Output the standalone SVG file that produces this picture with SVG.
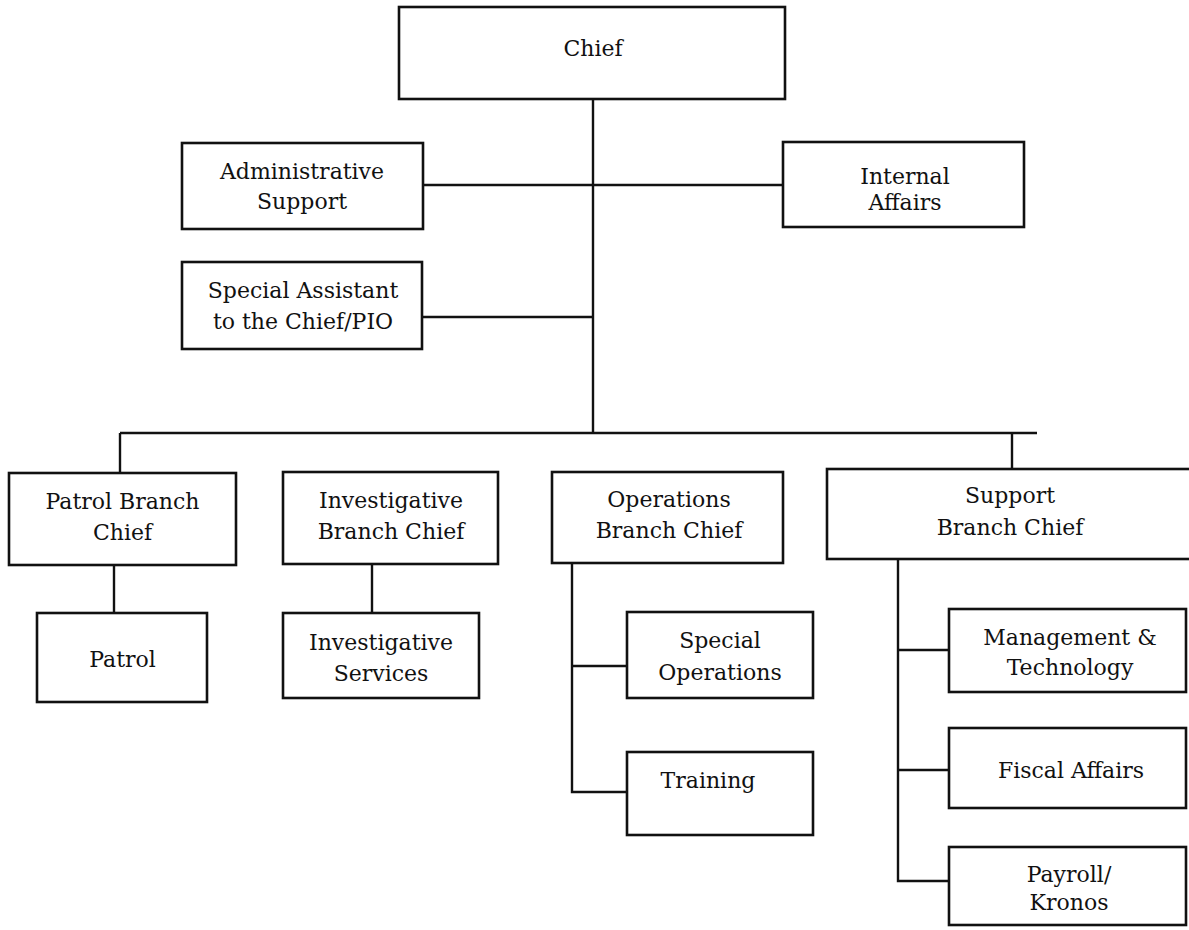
<svg xmlns="http://www.w3.org/2000/svg" width="1189" height="930" viewBox="0 0 1189 930">
<style>
.box{fill:#fff;stroke:#111;stroke-width:2.6}
.ln{stroke:#111;stroke-width:2.4;fill:none}
text{font-family:"DejaVu Serif","Liberation Serif",serif;font-size:22px;fill:#111;text-anchor:middle}
</style>
<rect width="1189" height="930" fill="#fff"/>
<g id="connectors">
<path class="ln" d="M593 99V433"/>
<path class="ln" d="M423 185H783"/>
<path class="ln" d="M422 317H593"/>
<path class="ln" d="M120 433H1037"/>
<path class="ln" d="M120 433V473"/>
<path class="ln" d="M1012 433V469"/>
<path class="ln" d="M114 565V613"/>
<path class="ln" d="M372 564V613"/>
<path class="ln" d="M572 563V792H627"/>
<path class="ln" d="M572 666H627"/>
<path class="ln" d="M898 559V881H949"/>
<path class="ln" d="M898 650H949"/>
<path class="ln" d="M898 770H949"/>
</g>
<g id="chief"><rect class="box" x="399" y="7" width="386" height="92"/><text x="593" y="56">Chief</text></g>
<g id="admin"><rect class="box" x="182" y="143" width="241" height="86"/><text x="302" y="179">Administrative</text><text x="302" y="209">Support</text></g>
<g id="special-assistant"><rect class="box" x="182" y="262" width="240" height="87"/><text x="303" y="298">Special Assistant</text><text x="303" y="329">to the Chief/PIO</text></g>
<g id="internal-affairs"><rect class="box" x="783" y="142" width="241" height="85"/><text x="905" y="184">Internal</text><text x="905" y="210">Affairs</text></g>
<g id="patrol-branch"><rect class="box" x="9" y="473" width="227" height="92"/><text x="122.5" y="509">Patrol Branch</text><text x="122.5" y="540">Chief</text></g>
<g id="patrol"><rect class="box" x="37" y="613" width="170" height="89"/><text x="122.5" y="667">Patrol</text></g>
<g id="investigative-branch"><rect class="box" x="283" y="472" width="215" height="92"/><text x="391" y="508">Investigative</text><text x="391" y="539">Branch Chief</text></g>
<g id="investigative-services"><rect class="box" x="283" y="613" width="196" height="85"/><text x="381" y="650">Investigative</text><text x="381" y="681">Services</text></g>
<g id="operations-branch"><rect class="box" x="552" y="472" width="231" height="91"/><text x="669" y="507">Operations</text><text x="669" y="538">Branch Chief</text></g>
<g id="special-operations"><rect class="box" x="627" y="612" width="186" height="86"/><text x="720" y="648">Special</text><text x="720" y="680">Operations</text></g>
<g id="training"><rect class="box" x="627" y="752" width="186" height="83"/><text x="708" y="788">Training</text></g>
<g id="support-branch"><rect class="box" x="827" y="469" width="370" height="90"/><text x="1010" y="503">Support</text><text x="1010" y="535">Branch Chief</text></g>
<g id="management"><rect class="box" x="949" y="609" width="237" height="83"/><text x="1070" y="645">Management &amp;</text><text x="1070" y="675">Technology</text></g>
<g id="fiscal"><rect class="box" x="949" y="728" width="237" height="80"/><text x="1071" y="778">Fiscal Affairs</text></g>
<g id="payroll"><rect class="box" x="949" y="847" width="237" height="78"/><text x="1069" y="882">Payroll/</text><text x="1069" y="910">Kronos</text></g>
</svg>
